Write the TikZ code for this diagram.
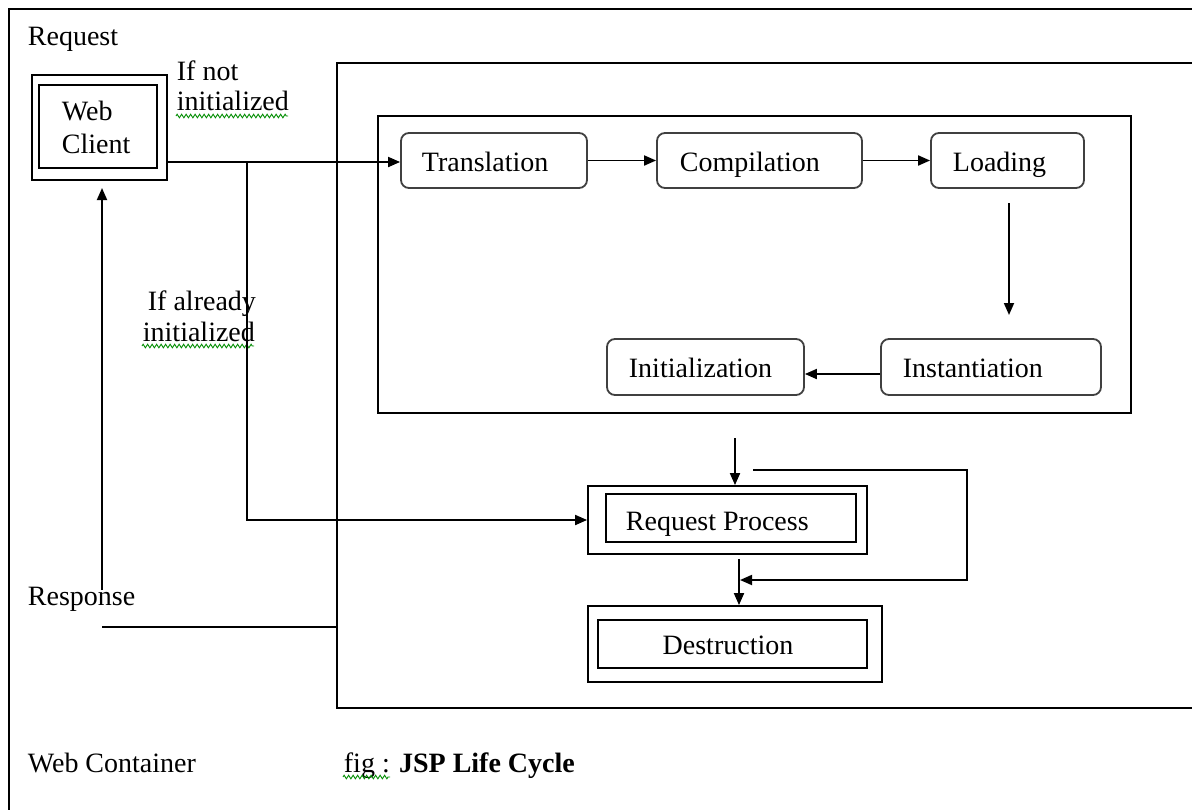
\documentclass[tikz,border=0pt]{standalone}
\usepackage{fontspec}
\setmainfont{Liberation Serif}
\usetikzlibrary{arrows.meta,decorations.pathmorphing}

\begin{document}
\begin{tikzpicture}[x=1pt,y=-1pt,
  font=\fontsize{28}{32}\selectfont,
  line width=1.8pt,
  arr/.style={-{Triangle[length=12pt,width=10pt]}},
  frame/.style={draw, line width=1.9pt},
  plainbox/.style={draw, rectangle, inner sep=0pt, line width=1.8pt},
  stagebox/.style={draw=black!75, rectangle, rounded corners=8pt, line width=1.8pt,
    inner sep=0pt, align=left, anchor=center},
  lbl/.style={anchor=base west, inner sep=0pt},
  spell/.style={draw=green!55!black, line width=0.9pt,
    decorate, decoration={zigzag, amplitude=1.8pt, segment length=4.5pt}}
]
\useasboundingbox (0,0) rectangle (1192,809);

% Web container frame and its nested boxes (open to the right)
\draw[frame] (9,900) -- (9,9) -- (1300,9);
\draw[frame] (1300,63) -- (337,63) -- (337,708) -- (1300,708);
\node[plainbox, minimum width=753pt, minimum height=297pt] (jsp) at (754.5,264.5) {};

% Web client
\node[plainbox, minimum width=135pt, minimum height=105pt] (wcout) at (99.5,127.5) {};
\node[plainbox, minimum width=118pt, minimum height=83pt] (wcin) at (98,126.5) {};
\node[lbl] (wctxt1) at (61,120) {Web};
\node[lbl] (wctxt2) at (61,153) {Client};

% Translation phase stages
\node[stagebox, minimum width=186pt, minimum height=55pt] (trans) at (494,160.5) {};
\node[stagebox, minimum width=205pt, minimum height=55pt] (comp) at (759.5,160.5) {};
\node[stagebox, minimum width=153pt, minimum height=55pt] (load) at (1007.5,160.5) {};
\node[stagebox, minimum width=197pt, minimum height=56pt] (init) at (705.5,367) {};
\node[stagebox, minimum width=220pt, minimum height=56pt] (inst) at (991,367) {};
\node[lbl] at (421,171) {Translation};
\node[lbl] at (679,171) {Compilation};
\node[lbl] at (952,171) {Loading};
\node[lbl] at (628,377) {Initialization};
\node[lbl] at (902,377) {Instantiation};

% Request processing and destruction
\node[plainbox, minimum width=279pt, minimum height=68pt] (rpout) at (727.5,520) {};
\node[plainbox, minimum width=250pt, minimum height=48pt] (rpin) at (731,518) {};
\node[lbl] at (625,530) {Request Process};
\node[plainbox, minimum width=294pt, minimum height=76pt] (dsout) at (735,644) {};
\node[plainbox, minimum width=269pt, minimum height=48pt] (dsin) at (732.5,644) {};
\node[anchor=center, inner sep=0pt] at (728,645) {Destruction};

% Labels
\node[lbl] (req) at (27,45) {Request};
\node[lbl] (ifnot1) at (176,80) {If not};
\node[lbl] (ifnot2) at (176,110) {initialized};
\node[lbl] (ifal1) at (147,310) {If already};
\node[lbl] (ifal2) at (142,341) {initialized};
\node[lbl] (resp) at (27,605) {Response};
\node[lbl] (wcont) at (27,772) {Web Container};
\node[lbl] (figcap) at (343,772) {fig : \textbf{JSP Life Cycle}};

% Spelling marks under words
\draw[spell] (176,116) -- (288,116);
\draw[spell] (142,346) -- (254,346);
\draw[spell] (343,777) -- (390,777);

% Connectors
\coordinate (split) at (247,162);
\draw[arr] (wcout.east |- 0,162) -- (trans.west |- 0,162);
\draw[arr] (split) |- (rpout.west);
\draw[arr] (trans.east) -- (comp.west);
\draw[arr] (comp.east) -- (load.west);
\coordinate (ldtop) at (1009,203);
\coordinate (ldbot) at (1009,315);
\draw[arr] (ldtop) -- (ldbot);
\draw[arr] (inst.west |- 0,374) -- (init.east |- 0,374);
\coordinate (rpin0) at (735,438);
\draw[arr] (rpin0) -- (rpin0 |- rpout.north);
\coordinate (rpbot) at (739,559);
\draw[arr] (rpbot) -- (rpbot |- dsout.north);
\coordinate (loopa) at (753,470);
\coordinate (loopb) at (740,580);
\draw[arr] (loopa) -- (967,470) |- (loopb);
\coordinate (respup) at (102,590);
\draw[arr] (respup) -- (102,188);
\coordinate (respl) at (102,627);
\draw (respl) -- (337,627);
\end{tikzpicture}
\end{document}
